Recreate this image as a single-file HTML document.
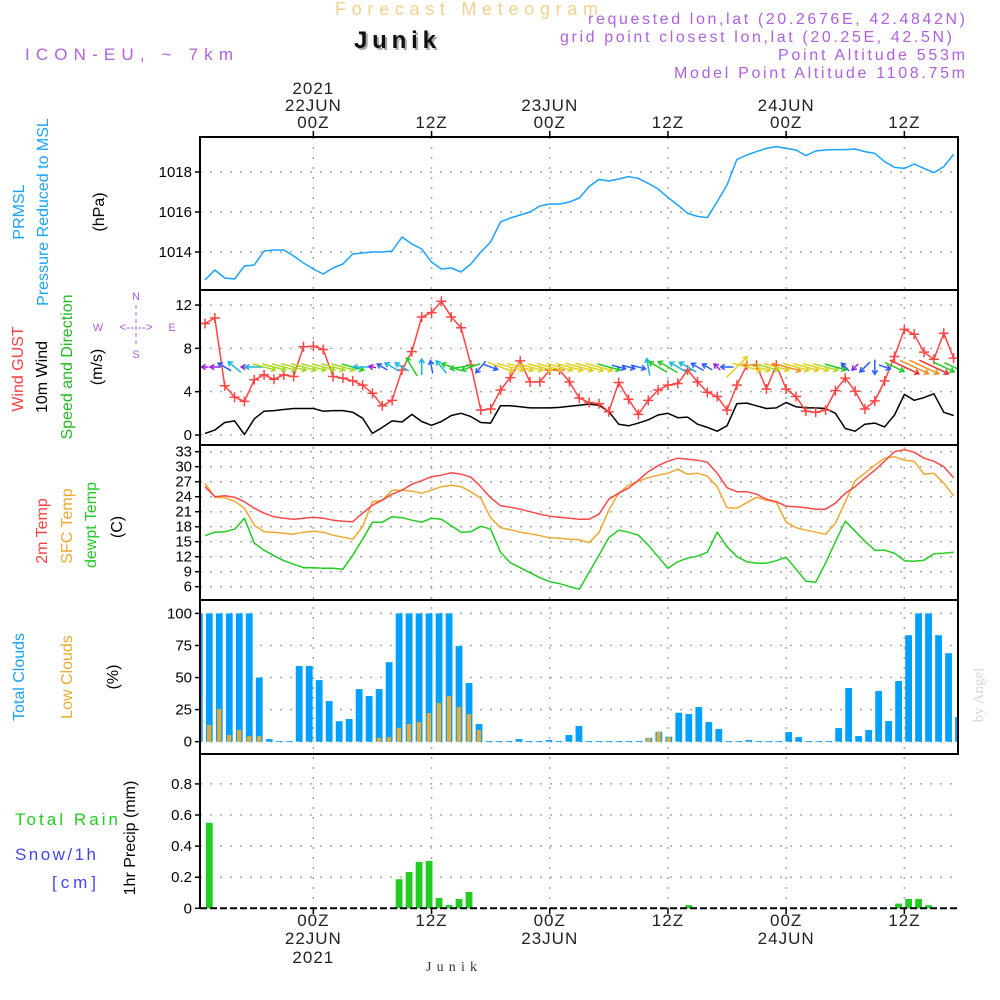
<!DOCTYPE html>
<html><head><meta charset="utf-8"><title>Forecast Meteogram - Junik</title>
<style>
html,body{margin:0;padding:0;background:#fff;}
svg{display:block;font-family:"Liberation Sans",sans-serif;}
</style></head>
<body>
<svg id="chart" width="1000" height="1000" viewBox="0 0 1000 1000" xmlns="http://www.w3.org/2000/svg">
<defs>
<clipPath id="plotclip"><rect x="200" y="137" width="758" height="772"/></clipPath>
</defs>
<rect width="1000" height="1000" fill="#fff"/>
<!-- header -->
<text x="335" y="15" font-size="18" fill="#f3d08e" textLength="263" lengthAdjust="spacing">Forecast Meteogram</text>
<text x="356" y="50" font-size="24" font-weight="bold" fill="#aaa" textLength="82" lengthAdjust="spacing">Junik</text>
<text x="354" y="48" font-size="24" font-weight="bold" fill="#111" textLength="82" lengthAdjust="spacing">Junik</text>
<text x="25" y="60" font-size="17" fill="#b060e0" textLength="208" lengthAdjust="spacing">ICON-EU, ~ 7km</text>
<g fill="#b060e0" font-size="16">
<text x="588" y="24" textLength="377" lengthAdjust="spacing">requested lon,lat (20.2676E, 42.4842N)</text>
<text x="560" y="42" textLength="392" lengthAdjust="spacing">grid point closest lon,lat (20.25E, 42.5N)</text>
<text x="778" y="60" textLength="187" lengthAdjust="spacing">Point Altitude 553m</text>
<text x="674" y="78" textLength="291" lengthAdjust="spacing">Model Point Altitude 1108.75m</text>
</g>
<text transform="rotate(-90 983 695)" x="983" y="695" text-anchor="middle" font-family="'Liberation Serif',serif" font-size="15" fill="#d8d8d8">by Angel</text>

<!-- left labels -->
<g font-size="16" text-anchor="middle">
<text transform="rotate(-90 24 212)" x="24" y="212" fill="#1aa3ff">PRMSL</text>
<text transform="rotate(-90 48 212)" x="48" y="212" fill="#1aa3ff">Pressure Reduced to MSL</text>
<text transform="rotate(-90 104 212)" x="104" y="212" fill="#000">(hPa)</text>
<text transform="rotate(-90 23 369)" x="23" y="369" fill="#ff4040">Wind GUST</text>
<text transform="rotate(-90 47 377)" x="47" y="377" fill="#000">10m Wind</text>
<text transform="rotate(-90 72 367)" x="72" y="367" fill="#22bb22">Speed and Direction</text>
<text transform="rotate(-90 102 367)" x="102" y="367" fill="#000">(m/s)</text>
<text transform="rotate(-90 47 531)" x="47" y="531" fill="#ff4040">2m Temp</text>
<text transform="rotate(-90 72 526)" x="72" y="526" fill="#f0a830">SFC Temp</text>
<text transform="rotate(-90 96 525)" x="96" y="525" fill="#22cc22">dewpt Temp</text>
<text transform="rotate(-90 122 527)" x="122" y="527" fill="#000">(C)</text>
<text transform="rotate(-90 24 677)" x="24" y="677" fill="#1aa3ff">Total Clouds</text>
<text transform="rotate(-90 72 677)" x="72" y="677" fill="#f0a830">Low Clouds</text>
<text transform="rotate(-90 118 677)" x="118" y="677" fill="#000">(%)</text>
<text transform="rotate(-90 135 838)" x="135" y="838" fill="#000">1hr Precip (mm)</text>
</g>
<text x="15" y="825" font-size="17" fill="#22cc22" textLength="103" lengthAdjust="spacing">Total  Rain</text>
<text x="15" y="860" font-size="17" fill="#4444ff" textLength="81" lengthAdjust="spacing">Snow/1h</text>
<text x="52" y="888" font-size="17" fill="#4444ff" textLength="44" lengthAdjust="spacing">[cm]</text>
<!-- compass -->
<g fill="#b060e0" font-size="11" text-anchor="middle">
<text x="136" y="300">N</text><text x="136" y="358">S</text><text x="98" y="331">W</text><text x="172" y="331">E</text>
<text x="136" y="331" font-size="12">&lt;-- --&gt;</text>
<line x1="136" y1="305" x2="136" y2="347" stroke="#b060e0" stroke-width="1" stroke-dasharray="4,3"/>
</g>

<g id="grid"></g>
<g id="marks" clip-path="url(#plotclip)"></g>
<g id="axes"></g>
<text x="426" y="971" font-family="'Liberation Serif',serif" font-size="14" fill="#333" textLength="51" lengthAdjust="spacing">Junik</text>

<script>
// ===== data (hourly, index 0 = 13Z 21 Jun) =====
const pressure = [1012.6,1013.1,1012.7,1012.65,1013.3,1013.35,1014.05,1014.1,1014.1,1013.8,1013.45,1013.15,1012.9,1013.2,1013.4,1013.9,1013.95,1014.0,1014.0,1014.05,1014.75,1014.4,1014.15,1013.5,1013.15,1013.2,1013.0,1013.4,1014.0,1014.5,1015.5,1015.7,1015.85,1016.0,1016.3,1016.4,1016.4,1016.5,1016.7,1017.27,1017.63,1017.55,1017.65,1017.77,1017.68,1017.43,1017.15,1016.72,1016.35,1015.93,1015.78,1015.72,1016.52,1017.35,1018.63,1018.85,1019.02,1019.18,1019.27,1019.18,1019.1,1018.82,1019.05,1019.1,1019.12,1019.12,1019.15,1019.02,1018.93,1018.52,1018.23,1018.18,1018.4,1018.18,1017.97,1018.27,1018.88];
const windGust = [10.3,10.8,4.55,3.5,3.1,5.1,5.55,5.15,5.55,5.4,8.15,8.2,7.9,5.4,5.25,5.0,4.6,3.85,2.7,3.2,6.0,7.7,10.9,11.3,12.35,10.9,9.9,6.45,2.3,2.4,4.15,5.3,6.85,4.9,4.9,6.0,6.0,4.9,3.4,3.0,2.9,2.15,4.85,3.3,1.9,3.2,4.15,4.6,4.75,6.0,4.9,3.95,3.55,2.3,4.6,6.45,6.45,4.25,6.45,4.25,3.55,2.2,2.1,2.3,4.1,5.25,4.05,2.4,3.15,5.0,7.25,9.75,9.3,7.65,7.0,9.4,7.1];
const windSpeed = [0.15,0.45,1.15,1.3,0.05,1.5,2.2,2.25,2.35,2.45,2.45,2.45,2.2,2.25,2.25,2.1,1.55,0.15,0.7,1.3,1.2,1.9,1.25,0.9,1.25,1.8,2.0,1.7,1.15,1.1,2.7,2.7,2.6,2.5,2.5,2.5,2.55,2.65,2.75,2.85,2.75,2.15,1.0,0.85,1.1,1.4,1.85,2.0,1.6,1.65,1.0,0.7,0.35,0.85,2.9,2.95,2.7,2.45,2.5,3.0,2.6,2.5,2.5,2.45,2.0,0.6,0.35,1.0,1.1,0.75,1.85,3.75,3.2,3.45,3.8,2.1,1.8];
// direction the arrow points, degrees counter-clockwise from east
const windToDir = [180,180,150,140,180,180,-15,-15,-15,-15,-15,-15,-15,-15,-15,-15,180,170,150,150,150,120,90,100,130,160,190,200,230,-20,-20,-15,-15,-15,-15,-15,-15,-15,-15,-15,-15,-15,-15,-15,-15,100,150,150,150,150,150,150,135,180,45,-15,-15,-15,-15,-15,-15,-15,-15,-15,-15,135,225,225,270,-20,-25,-25,-25,-25,-25,-25,-25];
const temp2m = [26.0,24.0,24.2,23.9,23.0,21.7,20.7,20.0,19.7,19.5,19.7,19.9,19.7,19.3,19.1,19.0,20.7,22.3,23.3,24.5,25.3,26.5,27.2,28.0,28.3,28.8,28.5,27.9,26.0,23.8,22.2,21.9,21.5,21.0,20.5,20.1,19.9,19.7,19.5,19.5,20.5,23.5,24.7,25.7,27.3,29.0,30.2,31.1,31.7,31.5,31.3,30.9,28.7,25.8,25.0,25.0,24.5,23.5,23.0,22.1,22.0,21.8,21.5,21.5,22.7,24.7,26.0,27.7,29.3,31.1,33.0,33.4,32.9,31.7,31.1,30.0,27.8];
const tempSfc = [26.7,23.9,23.8,23.1,21.7,18.3,17.0,16.9,16.7,16.5,16.9,17.1,16.9,16.3,15.9,15.5,18.0,23.0,23.3,25.3,25.3,25.1,24.7,25.3,26.0,26.3,26.0,25.0,23.7,19.8,17.8,17.4,16.9,16.6,16.2,15.8,15.7,15.5,15.4,14.8,16.8,21.3,24.7,26.3,27.1,27.8,28.3,28.7,29.5,28.5,28.7,28.1,26.0,21.8,21.7,22.8,23.9,23.3,22.9,18.9,17.8,17.3,16.9,16.5,18.7,23.0,27.2,28.7,30.3,31.7,32.0,31.3,31.1,28.5,28.7,26.7,24.2];
const dewpoint = [16.2,16.9,17.0,17.5,19.7,14.7,13.3,12.2,11.2,10.5,9.8,9.8,9.7,9.7,9.5,12.3,15.5,18.9,18.9,20.0,19.8,19.3,18.9,19.7,19.5,18.2,16.9,17.0,18.1,17.5,12.9,10.8,9.8,8.8,7.8,7.0,6.6,6.0,5.5,8.9,12.3,15.8,17.3,16.9,16.3,14.3,12.0,9.7,11.0,11.7,12.1,12.9,16.9,14.0,12.0,11.0,10.7,10.7,11.2,11.9,9.5,7.1,6.9,10.7,15.0,19.1,17.1,15.1,13.3,13.3,12.7,11.2,11.1,11.3,12.6,12.7,12.9];
const totalClouds = [100,100,100,100,100,100,50,2,0.5,0.5,59,59,48,31.7,16,17.7,41,35.6,41,62,100,100,100,100,100,100,74.5,45.7,13.8,0.5,0.5,0.5,2,0.5,0.5,1.3,0.5,5.2,12.2,0.5,0.5,0.5,0.5,0.5,0.5,3,7.8,3.9,22.6,21.6,27,15.3,9.9,0.5,0.5,1.3,0.5,0.5,0.5,7.5,3.6,0.5,0.5,0.5,10.6,41.8,4.4,9.1,39.5,16.1,47.3,83,100,100,83,69,19.2];
const lowClouds = [34.8,13,25.5,5.2,9.1,4.4,4.4,0,0,0,0,0,0,0,0,0,0,0,3.1,3.6,10.9,13.8,15.3,22.3,30.1,35.6,27,21.6,9.1,0,0,0,0,0,0,0,0,0,0,0,0,0,0,0,0,3,7.8,3.5,0,0,0,0,0,0,0,0,0,0,0,0,0,0,0,0,0,0,0,0,0,0,0,0,0,0,0,0,0];
const precip = [0,0.55,0,0,0,0,0,0,0,0,0,0,0,0,0,0,0,0,0,0,0.187,0.233,0.298,0.305,0.066,0.021,0.06,0.105,0,0,0,0,0,0,0,0,0,0,0,0,0,0,0,0,0,0,0,0,0,0.02,0,0,0,0,0,0,0,0,0,0,0,0,0,0,0,0,0,0,0,0,0.03,0.06,0.06,0.02,0,0,0];
const pressureTicks = [1014,1016,1018];
const windTicks = [0,4,8,12];
const tempTicks = [6,9,12,15,18,21,24,27,30,33];
const cloudTicks = [0,25,50,75,100];
const precipTicks = [0,0.2,0.4,0.6,0.8];
const timeTicks = [0,12,24,36,48,60]; // hours since 00Z 22 Jun
const topLabels = [["2021","22JUN","00Z"],["","","12Z"],["","23JUN","00Z"],["","","12Z"],["","24JUN","00Z"],["","","12Z"]];
const bottomLabels = [["00Z","22JUN","2021"],["12Z","",""],["00Z","23JUN",""],["12Z","",""],["00Z","24JUN",""],["12Z","",""]];

// ===== scales =====
const NS="http://www.w3.org/2000/svg";
const L=200,R=958;
const panels={p:{top:137,bot:290},w:{top:290,bot:445},t:{top:445,bot:600},c:{top:600,bot:754},r:{top:754,bot:908}};
const xi=i=>205+i*9.85;            // line points
const xb=k=>199.3+k*9.99;          // bar centres
const xt=h=>205+(h+11)*9.85;       // time axis (hours from 00Z 22JUN)
const yP=v=>172-(v-1018)*20;
const yW=v=>435-v*10.83;
const yT=v=>586.7-(v-6)*5;
const yC=v=>741.7-v*1.283;
const yR=v=>908.3-v*155.5;

function mk(tag,attrs,parent){const e=document.createElementNS(NS,tag);for(const k in attrs)e.setAttribute(k,attrs[k]);parent.appendChild(e);return e;}
const grid=document.getElementById('grid'),marks=document.getElementById('marks'),axes=document.getElementById('axes');

// ===== gridlines & ticks =====
function hgrid(ticks,ys,fmt,name){
  ticks.forEach(v=>{
    const y=ys(v);
    const g=mk('line',{x1:L,x2:R,y1:y,y2:y,stroke:'#aaa','stroke-width':1.5,'stroke-dasharray':'2,8'},grid);
    
    
    const t=mk('line',{x1:L-5,x2:L,y1:y,y2:y,stroke:'#000','stroke-width':1.5},axes);
    
    
    const tx=mk('text',{x:L-8,y:y+5,'text-anchor':'end','font-size':15,fill:'#000'},axes);
    tx.textContent=fmt(v);
    
    
  });
}
hgrid(pressureTicks,yP,v=>String(v),'pressure');
hgrid(windTicks,yW,v=>String(v),'wind');
hgrid(tempTicks,yT,v=>String(v),'temp');
hgrid(cloudTicks,yC,v=>String(v),'cloud');
hgrid(precipTicks,yR,v=>v===0?'0':v.toFixed(1),'precip');

timeTicks.forEach((h,j)=>{
  const x=xt(h);
  const v=mk('line',{x1:x,x2:x,y1:137,y2:908,stroke:'#aaa','stroke-width':1.5,'stroke-dasharray':'2,8'},grid);
  
  
  const tk=mk('line',{x1:x,x2:x,y1:131,y2:137,stroke:'#000','stroke-width':1.5},axes);
  
  
  const tb=mk('line',{x1:x,x2:x,y1:908,y2:914,stroke:'#000','stroke-width':1.5},axes);
  
  
  const ty=[94,111,128];
  topLabels[j].forEach((s,r)=>{ if(!s)return;
    const t=mk('text',{x:x,y:ty[r],'text-anchor':'middle','font-size':17,fill:'#222','letter-spacing':'1'},axes);
    t.textContent=s;
    
    
  });
  const by=[926,944,963];
  bottomLabels[j].forEach((s,r)=>{ if(!s)return;
    const t=mk('text',{x:x,y:by[r],'text-anchor':'middle','font-size':17,fill:'#222','letter-spacing':'1'},axes);
    t.textContent=s;
    
    
  });
});

// ===== series =====
function line(arr,ys,color,name,w){
  const d=arr.map((v,i)=>(i?'L':'M')+xi(i).toFixed(1)+','+ys(v).toFixed(1)).join('');
  const p=mk('path',{d:d,fill:'none',stroke:color,'stroke-width':w||1.5,'stroke-linejoin':'round'},marks);
  
  
}
line(pressure,yP,'#1aa3ff','pressure-line');
line(windSpeed,yW,'#000','wind-speed-line');
line(windGust,yW,'#ff4444','wind-gust-line');
windGust.forEach((v,i)=>{
  const x=xi(i),y=yW(v);
  const c=mk('path',{d:`M${x-5},${y}H${x+5}M${x},${y-5}V${y+5}`,stroke:'#ff4444','stroke-width':1.5},marks);
  
  
});
function spdColor(s){
  if(s<0.5)return '#a020e0'; if(s<1.2)return '#2a5cff'; if(s<1.7)return '#18b8e0';
  if(s<2.2)return '#22cc22'; if(s<2.5)return '#a8d820'; if(s<3.0)return '#e0d020';
  if(s<3.5)return '#f09020'; return '#f03030';
}
windToDir.forEach((dir,i)=>{
  const s=windSpeed[i];
  const len=Math.min(32,6+s*8);
  const a=dir*Math.PI/180, cx=xi(i), cy=367;
  const dx=Math.cos(a)*len/2, dy=-Math.sin(a)*len/2;
  const x1=cx-dx,y1=cy-dy,x2=cx+dx,y2=cy+dy;
  const h=5, b1=a+Math.PI*0.82, b2=a-Math.PI*0.82;
  const col=spdColor(s);
  const g=mk('path',{d:`M${x1},${y1}L${x2},${y2}M${x2+Math.cos(b1)*h},${y2-Math.sin(b1)*h}L${x2},${y2}L${x2+Math.cos(b2)*h},${y2-Math.sin(b2)*h}`,stroke:col,'stroke-width':1.5,fill:'none'},marks);
  
  
});
line(dewpoint,yT,'#22cc22','dewpoint-line');
line(tempSfc,yT,'#f0a830','sfc-temp-line');
line(temp2m,yT,'#ff4848','temp-2m-line');

totalClouds.forEach((v,k)=>{
  const y=yC(v);
  const b=mk('rect',{x:xb(k)-3.4,y:y,width:6.8,height:Math.max(0.8,yC(0)-y),fill:'#00a0ff'},marks);
  
  
});
lowClouds.forEach((v,k)=>{
  if(v<=0)return;
  const y=yC(v);
  const b=mk('rect',{x:xb(k)-2.2,y:y,width:4.2,height:yC(0)-y,fill:'#e8aa30'},marks);
  
  
});
precip.forEach((v,k)=>{
  if(v<=0)return;
  const y=yR(v);
  const b=mk('rect',{x:xb(k)-3.4,y:y,width:6.8,height:yR(0)-y,fill:'#22cc22'},marks);
  
  
});

// ===== frames =====
[['p','pressure-panel'],['w','wind-panel'],['t','temp-panel'],['c','cloud-panel']].forEach(([k,n])=>{
  const p=panels[k];
  const r=mk('rect',{x:L,y:p.top,width:R-L,height:p.bot-p.top,fill:'none',stroke:'#000','stroke-width':2},axes);
  
  
});
const pl=mk('line',{x1:L,x2:L,y1:754,y2:909,stroke:'#000','stroke-width':2},axes);


const pb=mk('line',{x1:L,x2:R,y1:908.3,y2:908.3,stroke:'#000','stroke-width':2,'stroke-dasharray':'7,3'},axes);


</script>
</svg>
</body></html>
